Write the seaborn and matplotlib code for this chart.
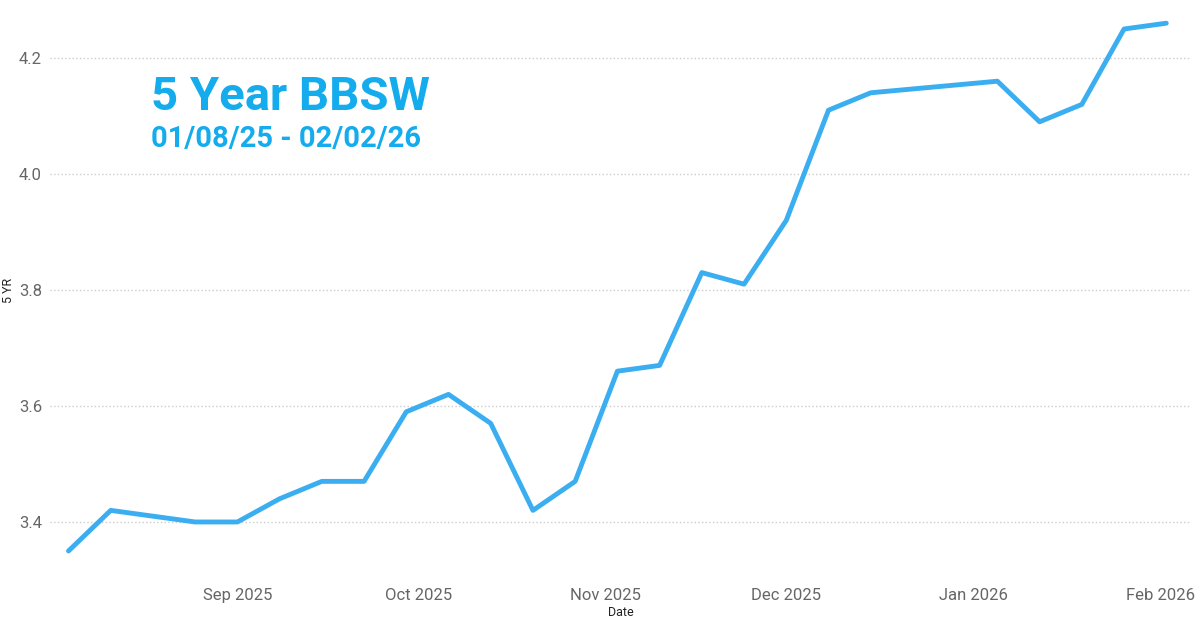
import pandas as pd
import matplotlib.pyplot as plt
import matplotlib.dates as mdates
import seaborn as sns

# weekly 5 year BBSW readings
dates = ["2025-08-04", "2025-08-11", "2025-08-25", "2025-09-01", "2025-09-08",
         "2025-09-15", "2025-09-22", "2025-09-29", "2025-10-06", "2025-10-13",
         "2025-10-20", "2025-10-27", "2025-11-03", "2025-11-10", "2025-11-17",
         "2025-11-24", "2025-12-01", "2025-12-08", "2025-12-15", "2026-01-05",
         "2026-01-12", "2026-01-19", "2026-01-26", "2026-02-02"]
rates = [3.35, 3.42, 3.40, 3.40, 3.44, 3.47, 3.47, 3.59, 3.62, 3.57,
         3.42, 3.47, 3.66, 3.67, 3.83, 3.81, 3.92, 4.11, 4.14, 4.16,
         4.09, 4.12, 4.25, 4.26]
y_ticks = [3.4, 3.6, 3.8, 4.0, 4.2]

df = pd.DataFrame({"Date": pd.to_datetime(dates), "5 YR": rates})

sns.set_style("white")
plt.rcParams['font.family'] = ['Roboto', 'DejaVu Sans']

fig = plt.figure(figsize=(12, 6.27), dpi=100)
ax = fig.add_axes([0.042, 0.075, 0.95, 0.925])

sns.lineplot(data=df, x="Date", y="5 YR", ax=ax, color="#3AAEF0", linewidth=3.5)

ax.set_xlim(pd.Timestamp("2025-08-01"), pd.Timestamp("2026-02-06"))
ax.set_ylim(3.30, 4.30)
ax.set_yticks(y_ticks)
ax.set_yticklabels([f"{v:.1f}" for v in y_ticks])
ax.xaxis.set_major_locator(mdates.MonthLocator(bymonthday=1))
ax.xaxis.set_major_formatter(mdates.DateFormatter("%b %Y"))
for lbl in ax.get_xticklabels():
    lbl.set_visible(lbl.get_text() != "Aug 2025")

ax.tick_params(axis="both", length=0, labelsize=12, labelcolor="#666666", pad=6)
ax.grid(axis="y", linestyle=":", color="#cccccc", linewidth=1)
for s in ax.spines.values():
    s.set_visible(False)
ax.set_xlabel("Date", fontsize=9, color="#222222", labelpad=2)
ax.set_ylabel("5 YR", fontsize=9, color="#222222", labelpad=3)

fig.text(0.126, 0.825, "5 Year BBSW", fontsize=34, fontweight="bold", color="#14ACEC")
fig.text(0.126, 0.765, "01/08/25 - 02/02/26", fontsize=21, fontweight="bold", color="#14ACEC")

fig.savefig("out.png", dpi=100)
